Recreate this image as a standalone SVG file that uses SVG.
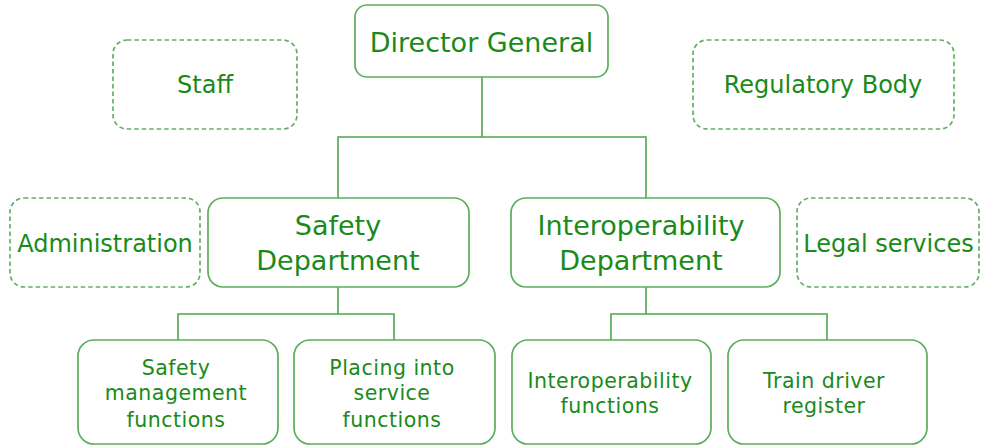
<svg xmlns="http://www.w3.org/2000/svg" width="981" height="446" viewBox="0 0 981 446">
  <style>
    .box { fill: #ffffff; stroke: #5cad5c; stroke-width: 1.7; }
    .aux { fill: #ffffff; stroke: #62b062; stroke-width: 1.7; stroke-dasharray: 4.5 3; }
    .wire { fill: none; stroke: #4ea64e; stroke-width: 1.6; }
    text { font-family: "DejaVu Sans", Verdana, sans-serif; fill: #1a8a1a; text-anchor: middle; }
    .t27 { font-size: 27px; }
    .t24 { font-size: 24px; }
    .t21 { font-size: 20.5px; letter-spacing: 0.5px; }
  </style>
  <rect width="981" height="446" fill="#ffffff"/>

  <!-- connectors -->
  <g id="connectors">
    <path class="wire" d="M482 77 V137 M338 198 V137 H646 V198"/>
    <path class="wire" d="M338 287 V314 M178 340 V314 H394 V340"/>
    <path class="wire" d="M646 287 V314 M611 340 V314 H827 V340"/>
  </g>

  <g id="director-general">
    <rect class="box" x="355" y="5" width="253" height="72" rx="12"/>
    <text class="t27" x="481.5" y="52">Director General</text>
  </g>

  <g id="staff">
    <rect class="aux" x="113" y="40" width="184" height="89" rx="14"/>
    <text class="t24" x="205" y="93">Staff</text>
  </g>

  <g id="regulatory-body">
    <rect class="aux" x="693" y="40" width="261" height="89" rx="14"/>
    <text class="t24" x="823" y="93">Regulatory Body</text>
  </g>

  <g id="administration">
    <rect class="aux" x="10" y="198" width="190" height="89" rx="14"/>
    <text class="t24" x="105" y="252">Administration</text>
  </g>

  <g id="safety-department">
    <rect class="box" x="208" y="198" width="261" height="89" rx="15"/>
    <text class="t27" x="338" y="235">Safety</text>
    <text class="t27" x="338" y="270">Department</text>
  </g>

  <g id="interoperability-department">
    <rect class="box" x="511" y="198" width="269" height="89" rx="15"/>
    <text class="t27" x="641" y="235">Interoperability</text>
    <text class="t27" x="641" y="270">Department</text>
  </g>

  <g id="legal-services">
    <rect class="aux" x="797" y="198" width="182" height="89" rx="14"/>
    <text class="t24" x="888.5" y="252">Legal services</text>
  </g>

  <g id="safety-management-functions">
    <rect class="box" x="78" y="340" width="200" height="104" rx="16"/>
    <text class="t21" x="176" y="375">Safety</text>
    <text class="t21" x="176" y="400">management</text>
    <text class="t21" x="176" y="427">functions</text>
  </g>

  <g id="placing-into-service-functions">
    <rect class="box" x="294" y="340" width="201" height="104" rx="16"/>
    <text class="t21" x="392" y="375">Placing into</text>
    <text class="t21" x="392" y="400">service</text>
    <text class="t21" x="392" y="427">functions</text>
  </g>

  <g id="interoperability-functions">
    <rect class="box" x="512" y="340" width="199" height="104" rx="16"/>
    <text class="t21" x="610" y="388">Interoperability</text>
    <text class="t21" x="610" y="413">functions</text>
  </g>

  <g id="train-driver-register">
    <rect class="box" x="728" y="340" width="199" height="104" rx="16"/>
    <text class="t21" x="824" y="388">Train driver</text>
    <text class="t21" x="824" y="413">register</text>
  </g>
</svg>
